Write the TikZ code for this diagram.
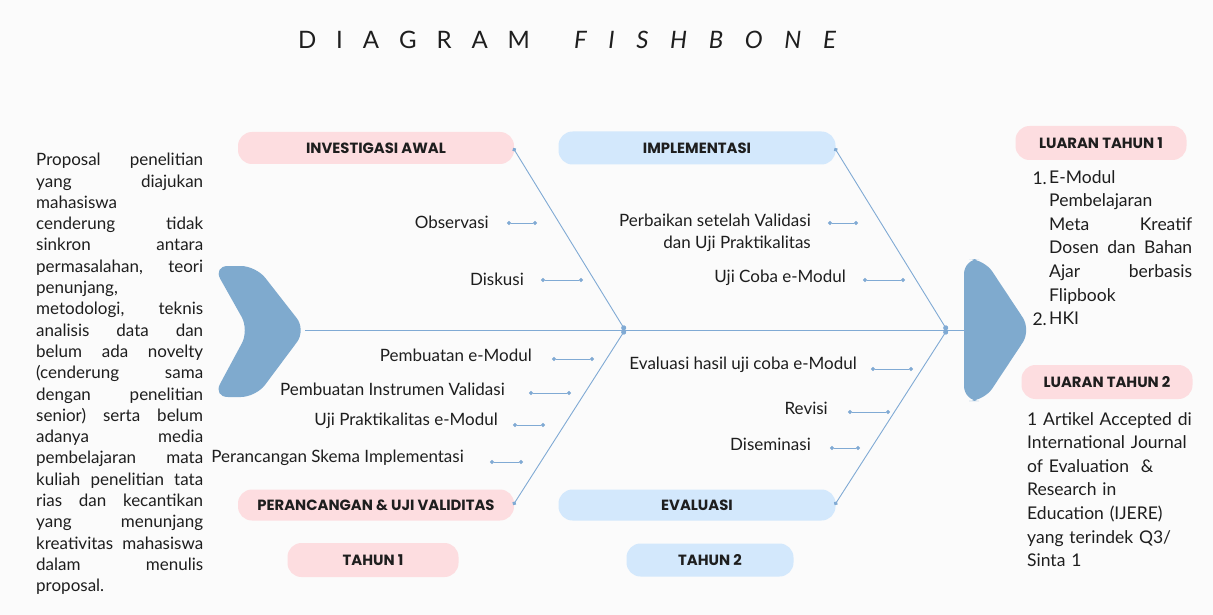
\documentclass[tikz,border=0pt]{standalone}
\usepackage{fontspec}
\setmainfont{Lato}
\newfontfamily\lblfont{Poppins}
\usetikzlibrary{arrows.meta}
\definecolor{bgc}{RGB}{251,251,251}
\definecolor{headc}{RGB}{127,170,206}
\definecolor{lc}{RGB}{128,170,212}
\definecolor{pinkc}{RGB}{253,221,224}
\definecolor{bluec}{RGB}{211,232,252}
\definecolor{txt}{RGB}{30,30,30}
\newcommand{\jl}[1]{\leavevmode\hbox to \hsize{#1}}
\begin{document}
\begin{tikzpicture}[x=1pt,y=-1pt,
  pill/.style={rounded corners=14pt, inner sep=0pt, text=txt,
    font=\lblfont\bfseries\fontsize{14.8}{16}\selectfont},
  pinkpill/.style={pill, fill=pinkc},
  bluepill/.style={pill, fill=bluec},
  item/.style={anchor=east, inner sep=0pt, text=txt, align=right,
    font=\fontsize{17}{22}\selectfont},
  bone/.style={line width=0.9pt, draw=lc, {Circle[length=4pt]}-{Circle[length=5pt]}},
  twig/.style={line width=0.9pt, draw=lc, {Circle[length=4pt]}-{Circle[length=4pt]}},
  spine/.style={line width=0.9pt, draw=lc},
  head/.style={fill=headc, draw=none, rounded corners=15pt},
  para/.style={anchor=north west, inner sep=0pt, text=txt, align=left},
  num/.style={anchor=base east, inner sep=0pt, text=txt, font=\fontsize{17.5}{20}\selectfont}
]
\useasboundingbox (0,0) rectangle (1213,615);
\fill[bgc] (0,0) rectangle (1213,615);

% title
\node[inner sep=0pt, text=txt, font=\fontsize{24}{28}\selectfont] (title) at (567,40)
  {\makebox[232pt][s]{D I A G R A M}\hspace{44pt}\makebox[262pt][s]{\itshape F I S H B O N E}};

% left problem text
\node[para, text width=167pt, font=\fontsize{17}{21.3}\selectfont] (prob) at (36,153) {%
\jl{Proposal\hfill penelitian}\\
\jl{yang\hfill diajukan}\\
mahasiswa\\
\jl{cenderung\hfill tidak}\\
\jl{sinkron\hfill antara}\\
\jl{permasalahan,\hfill teori}\\
penunjang,\\
\jl{metodologi,\hfill teknis}\\
\jl{analisis\hfill data\hfill dan}\\
\jl{belum\hfill ada\hfill novelty}\\
\jl{(cenderung\hfill sama}\\
\jl{dengan\hfill penelitian}\\
\jl{senior)\hfill serta\hfill belum}\\
\jl{adanya\hfill media}\\
\jl{pembelajaran\hfill mata}\\
\jl{kuliah\hfill penelitian\hfill tata}\\
\jl{rias\hfill dan\hfill kecantikan}\\
\jl{yang\hfill menunjang}\\
\jl{kreativitas\hfill mahasiswa}\\
\jl{dalam\hfill menulis}\\
proposal.};

% heads
\fill[head] (213,266) -- (256,266) -- (306,330) -- (256,397) -- (213,397) -- (249,330) -- cycle;
\fill[head] (964,259) -- (984,259) -- (1031,330) -- (984,401) -- (964,401) -- cycle;

% junctions
\coordinate (tail) at (305,330);
\coordinate (j1) at (625,330);
\coordinate (j2) at (947,330);
\coordinate (nose) at (965,330);
\draw[spine] (tail) -- (nose);

% category pills
\node[pinkpill, minimum width=276pt, minimum height=32pt] (inv) at (376,148) {INVESTIGASI AWAL};
\node[bluepill, minimum width=277pt, minimum height=33pt] (impl) at (697,148) {IMPLEMENTASI};
\node[pinkpill, minimum width=276pt, minimum height=31pt] (pur) at (376,505) {PERANCANGAN \& UJI VALIDITAS};
\node[bluepill, minimum width=277pt, minimum height=31pt] (eva) at (697,505) {EVALUASI};
\node[pinkpill, minimum width=171pt, minimum height=34pt] (t1) at (373,560) {TAHUN 1};
\node[bluepill, minimum width=167pt, minimum height=33pt] (t2) at (710,560) {TAHUN 2};
\node[pinkpill, minimum width=171pt, minimum height=34pt] (l1) at (1101,143) {LUARAN TAHUN 1};
\node[pinkpill, minimum width=171pt, minimum height=34pt] (l2) at (1107,382) {LUARAN TAHUN 2};

% bones
\draw[bone] ([xshift=-1pt]inv.east) -- (j1);
\draw[bone] ([xshift=-1pt]pur.east) -- (j1);
\draw[bone] ([xshift=-1pt]impl.east) -- (j2);
\draw[bone] ([xshift=-1pt]eva.east) -- (j2);

% cause items
\node[item] (obs) at (489,222) {Observasi};
\node[item] (dis) at (524,279) {Diskusi};
\node[item] (perb) at (811,233) {Perbaikan setelah Validasi\\dan Uji Praktikalitas};
\node[item] (ujc) at (846,278) {Uji Coba e-Modul};
\node[item] (pem) at (532,355) {Pembuatan e-Modul};
\node[item] (pin) at (505,389) {Pembuatan Instrumen Validasi};
\node[item] (upk) at (498,421) {Uji Praktikalitas e-Modul};
\node[item] (psi) at (464,458) {Perancangan Skema Implementasi};
\node[item] (evh) at (857,365) {Evaluasi hasil uji coba e-Modul};
\node[item] (rev) at (828,408) {Revisi};
\node[item] (dsm) at (811,444) {Diseminasi};

% twigs
\coordinate (a1) at (507,223); \coordinate (b1) at (537,223);
\coordinate (a2) at (541,280); \coordinate (b2) at (583,280);
\coordinate (a3) at (828,223); \coordinate (b3) at (858,223);
\coordinate (a4) at (863,280); \coordinate (b4) at (905,280);
\coordinate (a5) at (552,359); \coordinate (b5) at (594,359);
\coordinate (a6) at (529,393); \coordinate (b6) at (571,393);
\coordinate (a7) at (513,425); \coordinate (b7) at (545,425);
\coordinate (a8) at (490,462); \coordinate (b8) at (523,462);
\coordinate (a9) at (871,369); \coordinate (b9) at (913,369);
\coordinate (a10) at (848,412); \coordinate (b10) at (890,412);
\coordinate (a11) at (830,448); \coordinate (b11) at (860,448);
\foreach \i in {1,...,11} { \draw[twig] (a\i) -- (b\i); }

% outputs
\node[para, text width=143pt, font=\fontsize{17.5}{23.6}\selectfont] (out1) at (1049,170) {%
E-Modul\\
Pembelajaran\\
\jl{Meta\hfill Kreatif}\\
\jl{Dosen\hfill dan\hfill Bahan}\\
\jl{Ajar\hfill berbasis}\\
Flipbook\\
HKI};
\node[num] (n1) at (1047,184) {1.};
\node[num] (n2) at (1047,325.6) {2.};
\node[para, text width=175pt, font=\fontsize{17.5}{23.6}\selectfont] (out2) at (1027,412) {%
1 Artikel Accepted di\\
International Journal\\
of Evaluation \ \&\\
Research in\\
Education (IJERE)\\
yang terindek Q3/\\
Sinta 1};
\end{tikzpicture}
\end{document}
